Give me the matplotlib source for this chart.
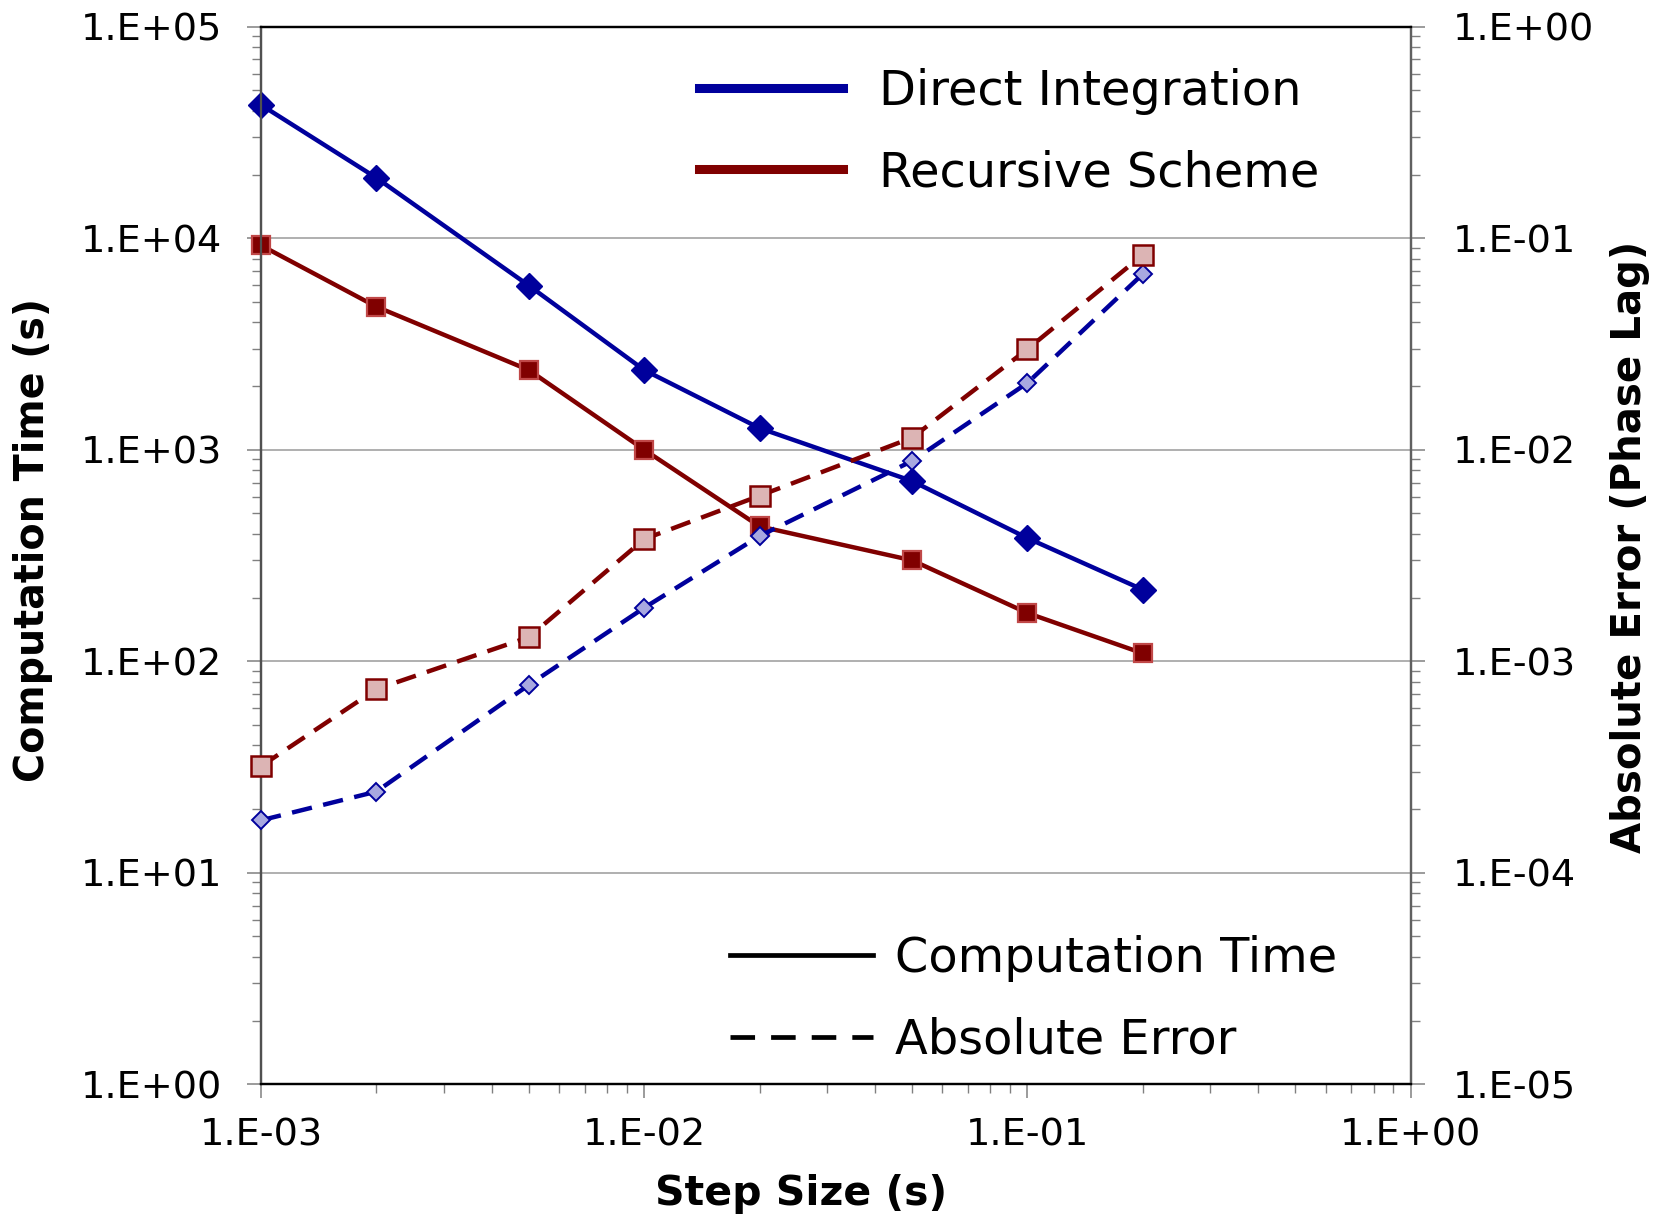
import math
import matplotlib
matplotlib.use("Agg")
import matplotlib.pyplot as plt
from matplotlib.ticker import LogLocator, FuncFormatter, NullFormatter
from matplotlib.lines import Line2D

step_size = [0.001, 0.002, 0.005, 0.01, 0.02, 0.05, 0.1, 0.2]
time_direct = [42700, 19300, 5970, 2380, 1265, 711, 382, 218]
time_recursive = [9250, 4745, 2380, 1000, 434, 300, 169, 109]
err_direct = [1.77e-4, 2.42e-4, 7.73e-4, 1.79e-3, 3.91e-3, 8.85e-3, 2.07e-2, 6.78e-2]
err_recursive = [3.19e-4, 7.38e-4, 1.30e-3, 3.78e-3, 6.06e-3, 1.14e-2, 2.99e-2, 8.34e-2]

method_labels = ["Direct Integration", "Recursive Scheme"]
measure_labels = ["Computation Time", "Absolute Error"]
xlabel = "Step Size (s)"
ylabel_left = "Computation Time (s)"
ylabel_right = "Absolute Error (Phase Lag)"

BLUE = "#00009C"
RED = "#800000"

plt.rcParams['font.family'] = ['DejaVu Sans']

fig = plt.figure(figsize=(16.53, 12.18), dpi=100)
ax = fig.add_axes([261/1653, 1 - 1084.3/1218, (1410.7-261)/1653, (1084.3-26.7)/1218])
ax2 = ax.twinx()

ax.set_xscale('log')
ax.set_yscale('log')
ax2.set_yscale('log')
ax.set_xlim(1e-3, 1e0)
ax.set_ylim(1e0, 1e5)
ax2.set_ylim(1e-5, 1e0)

fmt = FuncFormatter(lambda v, p: "1.E{:+03d}".format(int(round(math.log10(v)))))
for a in (ax.xaxis, ax.yaxis, ax2.yaxis):
    a.set_major_locator(LogLocator(base=10, numticks=20))
    a.set_minor_locator(LogLocator(base=10, subs=range(2, 10), numticks=20))
    a.set_major_formatter(fmt)
    a.set_minor_formatter(NullFormatter())

ax.yaxis.grid(True, which='major', color='#9a9a9a', linewidth=1.1)
ax.set_axisbelow(True)

dash = (4.6, 2.6)
LW = 3.2
ax.plot(step_size, time_direct, color=BLUE, lw=LW, marker='D', ms=13,
        mfc=BLUE, mec=BLUE, zorder=3, clip_on=False)
ax.plot(step_size, time_recursive, color=RED, lw=LW, marker='s', ms=13.5,
        mfc=RED, mec='#c04848', mew=1.6, zorder=3, clip_on=False)
ax2.plot(step_size, err_direct, color=BLUE, lw=LW, dashes=dash, marker='D', ms=9,
         mfc='#a8a8e0', mec=BLUE, mew=1.4, zorder=3, clip_on=False)
ax2.plot(step_size, err_recursive, color=RED, lw=LW, dashes=dash, marker='s', ms=15,
         mfc='#dcb4b4', mec=RED, mew=1.8, zorder=3, clip_on=False)

tick_kw = dict(direction='out', colors='#808080', labelcolor='black', labelsize=27.5)
ax.tick_params(axis='both', which='major', length=10, width=1.1, **tick_kw)
ax.tick_params(axis='both', which='minor', length=6.5, width=1.0, direction='out', colors='#808080')
ax.tick_params(axis='y', which='major', pad=18)
ax.tick_params(axis='x', which='major', pad=14)
ax.tick_params(axis='x', which='minor', bottom=True, top=False)
ax.tick_params(axis='y', which='both', left=True, right=False)
ax2.tick_params(axis='y', which='major', length=10, width=1.1, pad=20, **tick_kw)
ax2.tick_params(axis='y', which='minor', length=6.5, width=1.0, direction='out', colors='#808080')
ax2.tick_params(axis='y', which='both', left=False, right=True)

for a in (ax, ax2):
    a.spines['top'].set_color('black')
    a.spines['bottom'].set_color('black')
    a.spines['left'].set_color('#505050')
    a.spines['right'].set_color('#606060')
    for s in a.spines.values():
        s.set_linewidth(1.6)

fig.text(801/1653, 1 - 1194.5/1218, xlabel, ha='center', va='center',
         fontsize=29.5, fontweight='bold')
fig.text(32.7/1653, 1 - 540/1218, ylabel_left, ha='center', va='center',
         rotation=90, fontsize=28.5, fontweight='bold')
fig.text(1630/1653, 1 - 547/1218, ylabel_right, ha='center', va='center',
         rotation=90, fontsize=29, fontweight='bold')

h1 = [Line2D([], [], color=BLUE, lw=6.5), Line2D([], [], color=RED, lw=6.5)]
leg1 = fig.legend(h1, method_labels, loc='center left',
                  bbox_to_anchor=(699/1653, 1 - 132/1218), frameon=False,
                  fontsize=34.5, handlelength=3.0, handletextpad=0.75,
                  labelspacing=0.72, borderpad=0, borderaxespad=0)
h2 = [Line2D([], [], color='black', lw=3.4), Line2D([], [], color='black', lw=3.4, dashes=(5.2, 3.4))]
leg2 = fig.legend(h2, measure_labels, loc='center left',
                  bbox_to_anchor=(729.5/1653, 1 - 999.5/1218), frameon=False,
                  fontsize=34.5, handlelength=3.0, handletextpad=0.45,
                  labelspacing=0.72, borderpad=0, borderaxespad=0)

fig.savefig("out.png", dpi=100)
